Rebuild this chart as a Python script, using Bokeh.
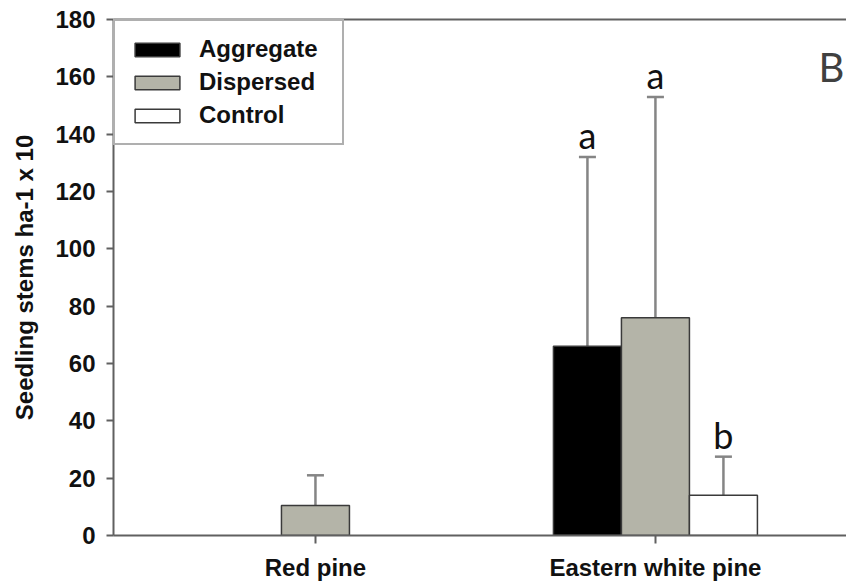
from bokeh.plotting import figure
from bokeh.models import (Range1d, FixedTicker, LinearAxis, Legend, LegendItem,
                          Whisker, TeeHead, ColumnDataSource, Label)
from bokeh.core.properties import value
from bokeh.embed import file_html
from bokeh.resources import INLINE

# ---- data ----
categories = ["Red pine", "Eastern white pine"]
series_names = ["Aggregate", "Dispersed", "Control"]
aggregate = [0, 66]
dispersed = [10.5, 76]
control = [0, 14]
aggregate_err_top = [None, 132]
dispersed_err_top = [21, 153]
control_err_top = [None, 27.5]
aggregate_letters = ["", "a"]
dispersed_letters = ["", "a"]
control_letters = ["", "b"]
y_ticks = [0, 20, 40, 60, 80, 100, 120, 140, 160, 180]
panel_label = "B"
y_label = "Seedling stems ha-1 x 10"

# ---- style ----
fills = ["#000000", "#b4b4a8", "#ffffff"]
offsets = [-0.2, 0.0, 0.2]
bar_w = 0.2
axis_col = "#606060"
font = "Liberation Sans"

p = figure(width=846, height=583, output_backend="svg", toolbar_location=None,
           x_range=Range1d(0.406, 2.562), y_range=Range1d(0, 180),
           min_border_left=113, min_border_right=0, min_border_top=19,
           min_border_bottom=48)
p.xgrid.visible = False
p.ygrid.visible = False
p.outline_line_color = None
p.background_fill_color = "white"

values = [aggregate, dispersed, control]
errs = [aggregate_err_top, dispersed_err_top, control_err_top]
letters = [aggregate_letters, dispersed_letters, control_letters]

legend_items = []
for s, name in enumerate(series_names):
    xs, tops = [], []
    for i, v in enumerate(values[s]):
        if v > 0:
            xs.append(i + 1 + offsets[s])
            tops.append(v)
    src = ColumnDataSource(dict(x=xs, top=tops))
    r = p.vbar(x="x", top="top", width=bar_w, source=src, fill_color=fills[s],
               line_color="#3a3a3a", line_width=1.5)
    legend_items.append(LegendItem(label=name, renderers=[r]))

    ex, lo, hi, lx, ly, lt = [], [], [], [], [], []
    for i, e in enumerate(errs[s]):
        if e is not None:
            ex.append(i + 1 + offsets[s])
            lo.append(values[s][i])
            hi.append(e)
        if letters[s][i]:
            lx.append(i + 1 + offsets[s])
            ly.append(errs[s][i])
            lt.append(letters[s][i])
    esrc = ColumnDataSource(dict(x=ex, lower=lo, upper=hi))
    w = Whisker(base="x", lower="lower", upper="upper", source=esrc,
                line_color="#858585", line_width=2.5,
                upper_head=TeeHead(size=17, line_color="#858585", line_width=2.5),
                lower_head=None)
    p.add_layout(w)
    tsrc = ColumnDataSource(dict(x=lx, y=ly, t=lt))
    p.text(x="x", y="y", text="t", source=tsrc, text_font=value("Lato"),
           text_font_size="36px", text_align="center", text_baseline="alphabetic",
           y_offset=-22, text_color="#111111")

legend = Legend(items=legend_items, location="top_left", margin=0, padding=14,
                border_line_color=axis_col, border_line_width=2,
                label_text_font=font, label_text_font_style="bold",
                label_text_font_size="24px", label_text_color="#111111",
                glyph_width=56, glyph_height=17, label_width=129,
                label_standoff=14, spacing=5, background_fill_alpha=1)
p.add_layout(legend)

# y axis
p.yaxis.ticker = FixedTicker(ticks=y_ticks)
p.yaxis.axis_label = y_label
for ax in [p.yaxis[0], p.xaxis[0]]:
    ax.axis_line_color = axis_col
    ax.axis_line_width = 2
    ax.major_tick_line_color = axis_col
    ax.major_tick_line_width = 2
    ax.major_tick_in = 0
    ax.minor_tick_line_color = None
    ax.major_label_text_font = font
    ax.major_label_text_font_style = "bold"
    ax.major_label_text_font_size = "24px"
    ax.major_label_text_color = "#111111"
p.yaxis.major_tick_out = 7
p.yaxis.major_label_standoff = 11
p.yaxis.axis_label_text_font = font
p.yaxis.axis_label_text_font_style = "bold"
p.yaxis.axis_label_text_font_size = "24px"
p.yaxis.axis_label_text_color = "#111111"
p.yaxis.axis_label_standoff = 14

p.xaxis.ticker = FixedTicker(ticks=[i + 1 for i in range(len(categories))])
p.xaxis.major_label_overrides = {i + 1: c for i, c in enumerate(categories)}
p.xaxis.major_tick_out = 8
p.xaxis.major_label_standoff = 10

top_axis = LinearAxis(ticker=FixedTicker(ticks=[]), axis_line_color=axis_col,
                      axis_line_width=2, major_tick_line_color=None,
                      minor_tick_line_color=None, major_label_standoff=0)
p.add_layout(top_axis, "above")

p.add_layout(Label(x=2.518, y=163.6, text=panel_label, text_font="Lato",
                   text_font_size="40px", text_color="#404040",
                   text_align="center", text_baseline="middle"))

open("out.html", "w").write(file_html(p, INLINE))
